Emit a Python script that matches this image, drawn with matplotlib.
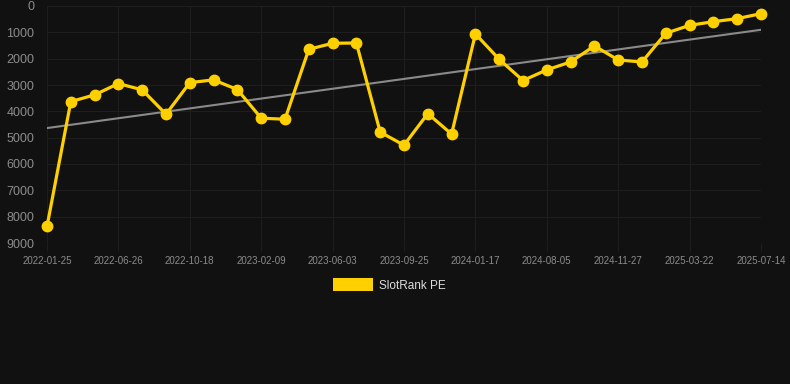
import matplotlib
matplotlib.use("Agg")
import matplotlib.pyplot as plt
import numpy as np
from matplotlib.patches import Patch

plt.rcParams["font.family"] = ["Liberation Sans", "DejaVu Sans"]

# category labels (only every third one is shown on the axis)
dates = [
    "2022-01-25", "2022-03-06", "2022-05-16", "2022-06-26", "2022-08-03", "2022-09-10",
    "2022-10-18", "2022-11-25", "2023-01-02", "2023-02-09", "2023-03-18", "2023-04-26",
    "2023-06-03", "2023-07-11", "2023-08-18", "2023-09-25", "2023-11-02", "2023-12-10",
    "2024-01-17", "2024-03-24", "2024-05-30", "2024-08-05", "2024-09-12", "2024-10-20",
    "2024-11-27", "2025-01-04", "2025-02-12", "2025-03-22", "2025-04-29", "2025-06-06",
    "2025-07-14",
]
rank = [
    8370, 3630, 3375, 2945, 3185, 4110, 2910, 2805, 3175, 4260, 4300,
    1645, 1415, 1405, 4790, 5285, 4085, 4865, 1060, 2025, 2830, 2425,
    2125, 1515, 2050, 2125, 1035, 735, 595, 480, 290,
]

x = np.arange(len(dates))
slope, intercept = np.polyfit(x, rank, 1)
trend = slope * x + intercept

bg = "#111111"
fig = plt.figure(figsize=(7.9, 3.84), dpi=100, facecolor=bg)
ax = fig.add_axes([47 / 790, 1 - 243 / 384, (761 - 47) / 790, (243 - 6) / 384])
ax.set_facecolor(bg)

ax.plot(x, trend, color="#8a8a8a", linewidth=1.5, zorder=2)
ax.plot(x, rank, color="#ffd000", linewidth=2.3, marker="o", markersize=7.5,
        zorder=3, clip_on=False)

ax.set_xlim(0, len(dates) - 1)
ax.set_ylim(9000, 0)
ax.set_yticks(range(0, 9001, 1000))
ax.set_xticks(x[::3])
ax.set_xticklabels(dates[::3])

ax.grid(True, color="#1e1e1e", linewidth=0.8)
ax.set_axisbelow(True)
for s in ax.spines.values():
    s.set_visible(False)
ax.tick_params(axis="x", colors="#1e1e1e", labelcolor="#8c8c8c", labelsize=7,
               length=6, width=0.8, pad=3)
ax.tick_params(axis="y", length=0, labelcolor="#8c8c8c", labelsize=9, pad=9)

fig.legend(handles=[Patch(facecolor="#ffd000", edgecolor="none", label="SlotRank PE")],
           loc="center", bbox_to_anchor=(389 / 790, 1 - 285 / 384), frameon=False,
           fontsize=8.5, labelcolor="#dddddd", handlelength=3.4, handleheight=1.2,
           handletextpad=0.5)

fig.savefig("out.png", dpi=100, facecolor=bg)
